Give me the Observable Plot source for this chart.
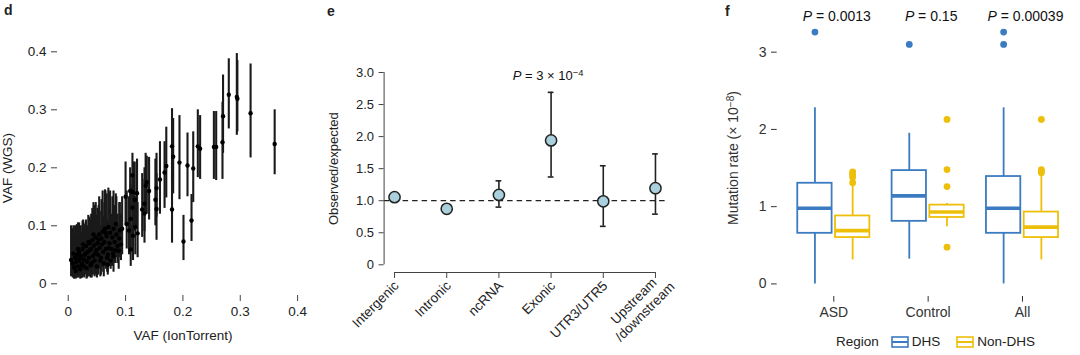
<!DOCTYPE html>
<html><head><meta charset="utf-8">
<script src="https://cdn.jsdelivr.net/npm/d3@7"></script>
<script src="https://cdn.jsdelivr.net/npm/@observablehq/plot@0.6"></script>
<style>
body{margin:0;background:#fff;font-family:"Liberation Sans",Arial,Helvetica,sans-serif;color:#222}
#root{position:relative;width:1080px;height:355px;overflow:hidden;background:#fff}
.panel{position:absolute;top:0}
.letter{position:absolute;font-weight:bold;font-size:14px;line-height:14px}
#legend{position:absolute;left:836px;top:333px;height:18px;line-height:18px;font-size:13.5px;display:flex;align-items:center;white-space:nowrap;color:#222}
</style></head><body><div id="root"></div>
<script>
const FONT = '"Liberation Sans", Arial, Helvetica, sans-serif';

// ---------- Panel d : VAF (IonTorrent) vs VAF (WGS) ----------
const vafIon = [0.360,0.318,0.294,0.295,0.280,0.270,0.269,0.258,0.254,0.230,0.226,0.218,0.208,0.194,0.183,0.181,0.171,0.168,0.215,0.201,0.181,0.154,0.152,0.154,0.141,0.135,0.133,0.129,0.133,0.120,0.116,0.113,0.108,0.112,0.109,0.102,0.117,0.121,0.113,0.106,0.109,0.094,0.088,0.090,0.083,0.079,0.069,0.005,0.112,0.100,0.137,0.160,
 0.008,0.010,0.012,0.013,0.015,0.016,0.018,0.019,0.021,0.022,0.024,0.025,0.027,0.028,0.030,0.031,0.033,0.034,0.036,0.037,0.039,0.040,0.042,0.043,0.045,0.046,0.048,0.049,0.051,0.052,0.054,0.055,0.057,0.058,0.060,0.061,0.063,0.064,0.066,0.067,0.069,0.070,0.072,0.073,0.075,0.077,0.079,0.081,0.084,0.086,0.089,0.092,
 0.009,0.014,0.017,0.020,0.023,0.026,0.029,0.032,0.035,0.038,0.041,0.044,0.047,0.050,0.053,0.056,0.059,0.062,0.065,0.068,0.071,0.074,0.078,0.082];
const vafWgs = [0.241,0.294,0.322,0.319,0.326,0.289,0.244,0.236,0.236,0.233,0.237,0.199,0.204,0.209,0.219,0.237,0.203,0.192,0.109,0.073,0.128,0.165,0.145,0.129,0.160,0.169,0.138,0.128,0.121,0.156,0.145,0.158,0.160,0.131,0.112,0.103,0.098,0.087,0.083,0.092,0.059,0.095,0.057,0.092,0.103,0.047,0.033,0.041,0.187,0.150,0.175,0.180,
 0.035,0.028,0.045,0.022,0.050,0.030,0.040,0.055,0.025,0.048,0.035,0.060,0.042,0.030,0.052,0.065,0.038,0.055,0.045,0.070,0.032,0.060,0.075,0.048,0.066,0.040,0.080,0.058,0.070,0.050,0.085,0.062,0.045,0.078,0.090,0.055,0.072,0.095,0.060,0.082,0.050,0.098,0.070,0.088,0.060,0.080,0.095,0.072,0.085,0.065,0.078,0.068,
 0.052,0.038,0.060,0.044,0.032,0.068,0.050,0.027,0.072,0.058,0.036,0.085,0.052,0.030,0.076,0.040,0.068,0.035,0.088,0.045,0.062,0.040,0.052,0.058];
const wgsLo = [0.188,0.217,0.256,0.262,0.267,0.225,0.180,0.178,0.180,0.180,0.183,0.140,0.150,0.145,0.155,0.175,0.148,0.130,0.073,0.040,0.070,0.115,0.100,0.075,0.110,0.120,0.090,0.080,0.070,0.100,0.090,0.100,0.110,0.080,0.060,0.060,0.050,0.045,0.040,0.050,0.030,0.050,0.025,0.050,0.060,0.020,0.015,0.012,0.130,0.100,0.120,0.120,
 0.010,0.008,0.012,0.008,0.015,0.010,0.010,0.020,0.008,0.015,0.010,0.025,0.012,0.010,0.018,0.030,0.010,0.020,0.012,0.030,0.010,0.020,0.035,0.015,0.025,0.012,0.040,0.020,0.030,0.015,0.040,0.025,0.015,0.035,0.045,0.020,0.030,0.050,0.025,0.040,0.020,0.055,0.030,0.045,0.030,0.040,0.050,0.035,0.045,0.035,0.045,0.040,
 0.015,0.010,0.020,0.012,0.009,0.025,0.015,0.008,0.030,0.020,0.010,0.040,0.015,0.010,0.035,0.012,0.028,0.012,0.045,0.020,0.030,0.025,0.030,0.035];
const wgsHi = [0.300,0.379,0.397,0.385,0.388,0.360,0.313,0.297,0.297,0.290,0.300,0.262,0.260,0.290,0.285,0.302,0.270,0.245,0.154,0.118,0.190,0.225,0.215,0.190,0.218,0.225,0.200,0.190,0.180,0.215,0.210,0.210,0.200,0.190,0.170,0.160,0.150,0.140,0.130,0.150,0.100,0.150,0.100,0.140,0.155,0.090,0.075,0.100,0.225,0.210,0.220,0.245,
 0.095,0.085,0.100,0.070,0.102,0.080,0.095,0.105,0.075,0.100,0.088,0.108,0.095,0.080,0.105,0.110,0.090,0.100,0.098,0.115,0.085,0.120,0.130,0.100,0.135,0.095,0.140,0.118,0.130,0.110,0.150,0.125,0.100,0.145,0.160,0.115,0.140,0.162,0.125,0.155,0.110,0.165,0.135,0.160,0.120,0.150,0.160,0.135,0.150,0.120,0.140,0.120,
 0.100,0.090,0.105,0.098,0.085,0.110,0.102,0.080,0.118,0.110,0.092,0.140,0.105,0.085,0.135,0.098,0.125,0.090,0.160,0.105,0.125,0.095,0.100,0.110];
const dTicks = [0, 0.1, 0.2, 0.3, 0.4];

// ---------- Panel e : observed / expected ----------
const eCategories = ["Intergenic", "Intronic", "ncRNA", "Exonic", "UTR3/UTR5", "Upstream\n/downstream"];
const eRatio = [1.055, 0.873, 1.09, 1.94, 0.99, 1.195];
const eLo    = [1.01, 0.83, 0.90, 1.37, 0.60, 0.79];
const eHi    = [1.10, 0.92, 1.31, 2.69, 1.545, 1.73];
const eTicks = [0, 0.5, 1, 1.5, 2, 2.5, 3];
const ePLabel = "P = 3 × 10⁻⁴";
const eRef = 1;

// ---------- Panel f : mutation rate boxplots ----------
const fGroups  = ["ASD", "Control", "All"];
const fRegions = ["DHS", "Non-DHS"];
const fColors  = ["#3b7bc1", "#eebf0a"];
const fBoxGroup  = ["ASD", "ASD", "Control", "Control", "All", "All"];
const fBoxRegion = ["DHS", "Non-DHS", "DHS", "Non-DHS", "DHS", "Non-DHS"];
const fWhiskLo = [0.00, 0.31, 0.32, 0.74, 0.00, 0.31];
const fQ1      = [0.655, 0.60, 0.81, 0.86, 0.655, 0.60];
const fMedian  = [0.98, 0.69, 1.14, 0.93, 0.98, 0.735];
const fQ3      = [1.303, 0.88, 1.467, 1.02, 1.39, 0.93];
const fWhiskHi = [2.28, 1.28, 1.95, 1.04, 2.28, 1.42];
const fOutGroup  = ["ASD","ASD","ASD","ASD","ASD","ASD","Control","Control","Control","Control","Control","All","All","All","All","All","All"];
const fOutRegion = ["DHS","Non-DHS","Non-DHS","Non-DHS","Non-DHS","Non-DHS","DHS","Non-DHS","Non-DHS","Non-DHS","Non-DHS","DHS","DHS","Non-DHS","Non-DHS","Non-DHS","Non-DHS"];
const fOutValue  = [3.26, 1.31, 1.38, 1.41, 1.43, 1.45, 3.10, 2.13, 1.48, 1.26, 0.475, 3.26, 3.10, 2.13, 1.44, 1.46, 1.48];
const fPLabels = ["P = 0.0013", "P = 0.15", "P = 0.00039"];
const fTicks = [0, 1, 2, 3];

const root = document.getElementById("root");
const SVGNS = "http://www.w3.org/2000/svg";
function place(el, left) { el.classList.add("panel"); el.style.left = left + "px"; root.appendChild(el); return el; }
const SUP = {"⁻": "−", "⁰": "0", "¹": "1", "²": "2", "³": "3", "⁴": "4", "⁵": "5", "⁶": "6", "⁷": "7", "⁸": "8", "⁹": "9"};
// italic P and real superscripts inside text labels
function richText(svg) {
  svg.querySelectorAll("text").forEach(t => {
    if (t.children.length) return;
    const s = t.textContent;
    const hasP = s.startsWith("P = ");
    const hasSup = /[⁻⁰¹²³⁴⁵⁶⁷⁸⁹]/.test(s);
    if (!hasP && !hasSup) return;
    t.textContent = "";
    let i = 0;
    if (hasP) {
      const sp = document.createElementNS(SVGNS, "tspan");
      sp.setAttribute("font-style", "italic"); sp.textContent = "P"; t.appendChild(sp); i = 1;
    }
    let buf = "", sup = false;
    const flush = () => {
      if (!buf) return;
      const sp = document.createElementNS(SVGNS, "tspan");
      sp.textContent = buf;
      if (sup) { sp.setAttribute("font-size", "72%"); sp.setAttribute("baseline-shift", "42%"); }
      t.appendChild(sp); buf = "";
    };
    for (; i < s.length; i++) {
      const c = s[i], isSup = c in SUP;
      if (isSup !== sup) { flush(); sup = isSup; }
      buf += isSup ? SUP[c] : c;
    }
    flush();
  });
}
const num = d => d === 0 ? "0" : String(d);

// Panel d
const dIdx = d3.range(vafIon.length);
const pd = Plot.plot({
  width: 320, height: 355,
  marginLeft: 57, marginRight: 12, marginTop: 40, marginBottom: 60,
  style: {fontFamily: FONT, fontSize: "13px", color: "#222", background: "white"},
  x: {domain: [-0.0187, 0.419]},
  y: {domain: [-0.0202, 0.4195]},
  marks: [
    Plot.ruleX(dIdx, {x: i => vafIon[i], y1: i => wgsLo[i], y2: i => wgsHi[i], stroke: "#1a1a1a", strokeWidth: 2.1}),
    Plot.dot(dIdx, {x: i => vafIon[i], y: i => vafWgs[i], r: 2.2, fill: "#000", stroke: "none"}),
    Plot.axisX({ticks: dTicks, tickFormat: num, tickSize: 6, tickPadding: 5, line: true, stroke: "#444", fontSize: 13.5, fill: "#222",
      label: "VAF (IonTorrent)", labelAnchor: "center", labelOffset: 44, labelArrow: false}),
    Plot.axisY({ticks: dTicks, tickFormat: num, tickSize: 6, tickPadding: 5, line: true, stroke: "#444", fontSize: 13.5, fill: "#222",
      label: "VAF (WGS)", labelAnchor: "center", labelOffset: 55, labelArrow: false})
  ]
});
place(pd, 0);

// Panel e
const eIdx = d3.range(eCategories.length);
const eSingle = eIdx.filter(i => !eCategories[i].includes("\n"));
const eMulti = eIdx.filter(i => eCategories[i].includes("\n"));
const eXDomain = [0.8, 6.2];
const eYDomain = [-0.12, 3.12];
const capHalf = 0.055;
const exonic = eCategories.indexOf("Exonic");
const labelStyle = {frameAnchor: "bottom", rotate: -45, textAnchor: "end", lineAnchor: "middle", fontSize: 13.5, fill: "#222"};
const pe = Plot.plot({
  width: 380, height: 355,
  marginLeft: 63.6, marginRight: 34.6, marginTop: 64.3, marginBottom: 83,
  style: {fontFamily: FONT, fontSize: "13px", color: "#222", background: "white"},
  x: {domain: eXDomain},
  y: {domain: eYDomain},
  marks: [
    Plot.ruleY([eRef], {stroke: "#222", strokeWidth: 1.3, strokeDasharray: "5.5,4"}),
    Plot.ruleX(eIdx, {x: i => i + 1, y1: i => eLo[i], y2: i => eHi[i], stroke: "#222", strokeWidth: 1.6}),
    Plot.ruleY(eIdx, {y: i => eLo[i], x1: i => i + 1 - capHalf, x2: i => i + 1 + capHalf, stroke: "#222", strokeWidth: 1.6}),
    Plot.ruleY(eIdx, {y: i => eHi[i], x1: i => i + 1 - capHalf, x2: i => i + 1 + capHalf, stroke: "#222", strokeWidth: 1.6}),
    Plot.dot(eIdx, {x: i => i + 1, y: i => eRatio[i], r: 5.6, fill: "#abd0dd", stroke: "#222", strokeWidth: 1.5}),
    Plot.text([ePLabel], {x: exonic + 1, y: eHi[exonic], text: d => d, dy: -12, dx: -3, lineAnchor: "bottom", fontSize: 13, fill: "#111"}),
    Plot.ruleX([eXDomain[0]], {y1: eTicks[0], y2: eTicks[eTicks.length - 1], stroke: "#444"}),
    Plot.ruleY([eYDomain[0]], {x1: 1, x2: eCategories.length, stroke: "#444"}),
    Plot.axisY({ticks: eTicks, tickFormat: d => d === 0 ? "0" : d.toFixed(1), tickSize: 5, tickPadding: 5, stroke: "#444", fontSize: 13, fill: "#222",
      label: "Observed/expected", labelAnchor: "center", labelOffset: 55, labelArrow: false}),
    Plot.axisX({ticks: eIdx.map(i => i + 1), tickFormat: () => "", tickSize: 6, stroke: "#444", label: null}),
    Plot.text(eSingle, {x: i => i + 1, text: i => eCategories[i], dx: 2, dy: 11, ...labelStyle}),
    Plot.text(eMulti, {x: i => i + 1, text: i => eCategories[i].split("\n")[0], dx: -1, dy: 8, ...labelStyle}),
    Plot.text(eMulti, {x: i => i + 1, text: i => eCategories[i].split("\n")[1], dx: 17, dy: 12, ...labelStyle})
  ]
});
richText(pe);
place(pe, 320);

// Panel f
const fIdx = d3.range(fBoxGroup.length);
const oIdx = d3.range(fOutValue.length);
const dodge = 0.2, boxHalf = 0.182;
const fx = (g, r) => fGroups.indexOf(g) + 1 + (r === fRegions[0] ? -dodge : dodge);
const fYDomain = [-0.163, 3.423];
const pf = Plot.plot({
  width: 380, height: 355,
  marginLeft: 76.7, marginRight: 1.4, marginTop: 19, marginBottom: 59,
  style: {fontFamily: FONT, fontSize: "13.5px", color: "#333", background: "white"},
  x: {domain: [0.4, 3.6]},
  y: {domain: fYDomain},
  color: {domain: fRegions, range: fColors},
  marks: [
    Plot.ruleX(fIdx, {x: i => fx(fBoxGroup[i], fBoxRegion[i]), y1: i => fQ3[i], y2: i => fWhiskHi[i], stroke: i => fBoxRegion[i], strokeWidth: 1.8}),
    Plot.ruleX(fIdx, {x: i => fx(fBoxGroup[i], fBoxRegion[i]), y1: i => fWhiskLo[i], y2: i => fQ1[i], stroke: i => fBoxRegion[i], strokeWidth: 1.8}),
    Plot.rect(fIdx, {x1: i => fx(fBoxGroup[i], fBoxRegion[i]) - boxHalf, x2: i => fx(fBoxGroup[i], fBoxRegion[i]) + boxHalf,
      y1: i => fQ1[i], y2: i => fQ3[i], fill: "white", stroke: i => fBoxRegion[i], strokeWidth: 1.8}),
    Plot.ruleY(fIdx, {y: i => fMedian[i], x1: i => fx(fBoxGroup[i], fBoxRegion[i]) - boxHalf, x2: i => fx(fBoxGroup[i], fBoxRegion[i]) + boxHalf,
      stroke: i => fBoxRegion[i], strokeWidth: 3.6}),
    Plot.dot(oIdx, {x: i => fx(fOutGroup[i], fOutRegion[i]), y: i => fOutValue[i], r: 3.4, fill: i => fOutRegion[i], stroke: "none"}),
    Plot.text(fPLabels, {x: (d, i) => i + 1, frameAnchor: "top", text: d => d, lineAnchor: "bottom", dy: 1, dx: 3, fill: "#111", fontSize: 14}),
    Plot.axisY({ticks: fTicks, tickFormat: num, tickSize: 5.7, tickPadding: 5, line: true, stroke: "#333", fontSize: 14, fill: "#333",
      label: "Mutation rate (× 10⁻⁸)", labelAnchor: "center", labelOffset: 49, labelArrow: false}),
    Plot.axisX({ticks: [1, 2, 3], tickFormat: d => fGroups[d - 1], tickSize: 5.7, tickPadding: 5, line: true, stroke: "#333", fontSize: 14, fill: "#333", label: null})
  ]
});
richText(pf);
place(pf, 700);

// legend for panel f
const lg = document.createElement("div");
lg.id = "legend";
let html = '<span style="margin-right:12px">Region</span>';
fRegions.forEach((r, i) => {
  const c = fColors[i];
  html += `<svg width="18" height="12" style="margin-right:3px"><rect x="1" y="1" width="16" height="10" fill="white" stroke="${c}" stroke-width="1.6"/><line x1="1" x2="17" y1="6" y2="6" stroke="${c}" stroke-width="2"/></svg><span style="margin-right:16px">${r}</span>`;
});
lg.innerHTML = html;
root.appendChild(lg);

// panel letters
[["d", 4, 3], ["e", 327, 4], ["f", 725, 4]].forEach(([t, x, y]) => {
  const el = document.createElement("div");
  el.className = "letter"; el.textContent = t;
  el.style.left = x + "px"; el.style.top = y + "px";
  root.appendChild(el);
});
</script></body></html>
